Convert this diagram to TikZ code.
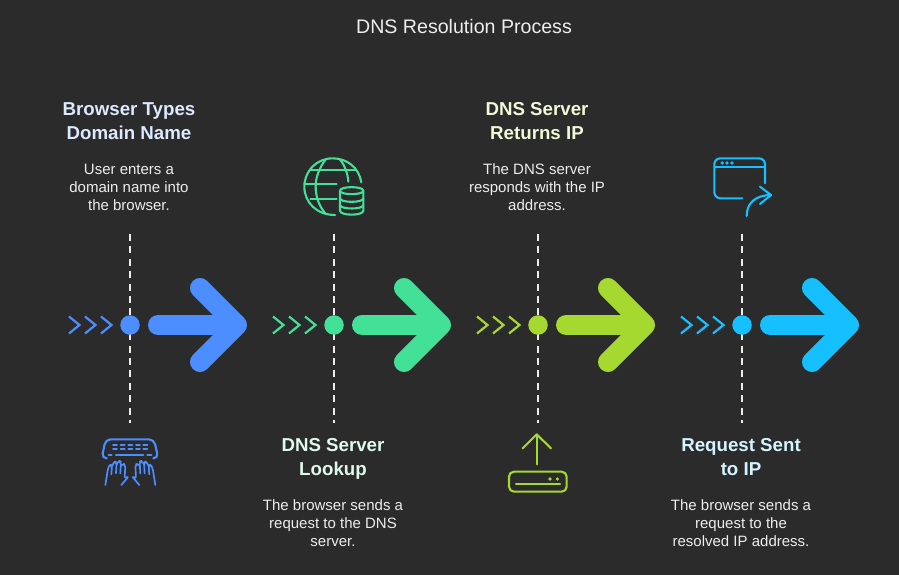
\documentclass[tikz,border=0pt]{standalone}
\usepackage{fontspec}
\setmainfont{Liberation Sans}
\definecolor{bg}{HTML}{2B2B2B}
\definecolor{cblue}{HTML}{4C8DFF}
\definecolor{cgreen}{HTML}{43E097}
\definecolor{clime}{HTML}{A6D92F}
\definecolor{ccyan}{HTML}{16BFFF}
\definecolor{tblue}{HTML}{DDE9FF}
\definecolor{tgreen}{HTML}{DDFAEC}
\definecolor{tlime}{HTML}{F0F9D5}
\definecolor{tcyan}{HTML}{D3F3FF}
\definecolor{body}{HTML}{EDEDED}
\tikzset{
  headtext/.style={align=center,inner sep=0pt,font=\bfseries\fontsize{18.7}{24}\selectfont},
  bodytext/.style={align=center,inner sep=0pt,text=body,font=\fontsize{15}{18}\selectfont},
  titletext/.style={inner sep=0pt,text=body,font=\fontsize{19.6}{23}\selectfont},
  guide/.style={draw=body,line width=2pt,dash pattern=on 7pt off 5.4pt},
  dot/.style={circle,inner sep=0pt,minimum size=19.5pt},
  bigarrow/.style={line width=20pt,line cap=round,line join=round},
  chev/.style={line width=2.2pt,line join=miter},
  icon/.style={line width=2.1pt,line cap=round,line join=round},
}
\begin{document}
\begin{tikzpicture}[x=1pt,y=-1pt]
\useasboundingbox (0,0) rectangle (899,575);
\fill[bg] (0,0) rectangle (899,575);
\node[titletext] (title) at (464,26) {DNS Resolution Process};

\foreach \n/\cx/\col in {a/130/cblue,b/334/cgreen,c/538/clime,d/742/ccyan}{
  \coordinate (\n top) at (\cx-0.5,234);
  \coordinate (\n bot) at (\cx-0.5,423);
  \draw[guide] (\n top) -- (\n bot);
  \node[dot,fill=\col] (\n dot) at (\cx,325) {};
  \foreach \o in {-61,-45,-29}{
    \draw[chev,draw=\col] (\cx+\o,316.5) -- ++(10.5,8.5) -- ++(-10.5,8.5);
  }
  \draw[bigarrow,draw=\col] (\cx+28,325) -- (\cx+105,325);
  \draw[bigarrow,draw=\col] (\cx+70,288) -- (\cx+107,325) -- (\cx+70,362);
}

\node[headtext,text=tblue] (h1) at (129,121) {Browser Types\\Domain Name};
\node[bodytext] (t1) at (129,187) {User enters a\\domain name into\\the browser.};
\node[headtext,text=tgreen] (h2) at (333,459) {DNS Server\\Lookup};
\node[bodytext] (t2) at (333,523) {The browser sends a\\request to the DNS\\server.};
\node[headtext,text=tlime] (h3) at (537,121) {DNS Server\\Returns IP};
\node[bodytext] (t3) at (537,187) {The DNS server\\responds with the IP\\address.};
\node[headtext,text=tcyan] (h4) at (741,457) {Request Sent\\to IP};
\node[bodytext] (t4) at (741,523) {The browser sends a\\request to the\\resolved IP address.};

% keyboard + hands
\begin{scope}[shift={(90,425)},x=0.3333pt,y=-0.3333pt,icon,draw=cblue]
  \draw[rounded corners=5pt] (50,100) -- (35,100) -- (47,43) -- (192,43) -- (205,100) -- (190,100);
  \draw (78,90) -- (160,90) (56,90) -- (65,90) (172,90) -- (184,90);
  \foreach \y in {60,73}{\foreach \x in {69,92,115,138,160}{\draw[line width=1.8pt] (\x,\y) -- (\x+12,\y);}}
  \begin{scope}[line width=1.7pt]
  \draw[rounded corners=2pt] (46,180) -- (54,130) -- (60,118) -- (66,122) -- (64,148);
  \draw[rounded corners=2pt] (66,124) -- (73,109) -- (80,112) -- (78,145);
  \draw[rounded corners=2pt] (80,118) -- (87,107) -- (93,110) -- (91,145);
  \draw[rounded corners=2pt] (93,122) -- (99,115) -- (106,120) -- (104,160) -- (116,154) -- (94,180);
  \draw[rounded corners=2pt] (196,180) -- (188,130) -- (182,118) -- (176,122) -- (178,148);
  \draw[rounded corners=2pt] (176,124) -- (169,109) -- (162,112) -- (164,145);
  \draw[rounded corners=2pt] (162,118) -- (155,107) -- (149,110) -- (151,145);
  \draw[rounded corners=2pt] (149,122) -- (143,115) -- (136,120) -- (138,160) -- (126,154) -- (148,180);
  \end{scope}
\end{scope}

% globe + database
\begin{scope}[shift={(295,150)},x=0.3333pt,y=-0.3333pt,icon,draw=cgreen]
  \draw (199,97) .. controls (192,52) and (155,25) .. (113,25)
        .. controls (65,25) and (28,63) .. (28,110)
        .. controls (28,157) and (65,195) .. (120,195);
  \draw (92,28) .. controls (72,55) and (62,82) .. (62,110) .. controls (62,140) and (72,168) .. (92,192);
  \draw (135,28) .. controls (150,48) and (158,70) .. (160,95);
  \draw (46,60) -- (180,60) (29,102) -- (125,102) (46,148) -- (125,148);
  \draw (135,122) .. controls (135,108) and (205,108) .. (205,122)
        .. controls (205,136) and (135,136) .. (135,122);
  \draw (135,122) -- (135,182) .. controls (135,198) and (205,198) .. (205,182) -- (205,122);
  \draw (135,145) .. controls (135,159) and (205,159) .. (205,145);
  \draw (135,165) .. controls (135,179) and (205,179) .. (205,165);
\end{scope}

% router + up arrow
\begin{scope}[shift={(500,425)},x=0.3333pt,y=-0.3333pt,icon,draw=clime]
  \draw[rounded corners=5pt] (27,140) rectangle (200,200);
  \draw (48,177) -- (180,177);
  \fill[clime] (150,162) circle (1.8pt) (172,162) circle (1.8pt);
  \draw (110,118) -- (110,28);
  \draw (68,70) -- (110,28) -- (153,70);
\end{scope}

% browser window + forward arrow
\begin{scope}[shift={(705,150)},x=0.3333pt,y=-0.3333pt,icon,draw=ccyan]
  \draw[rounded corners=6pt] (112,145) -- (28,145) -- (28,25) -- (180,25) -- (180,100);
  \draw (28,52) -- (180,52);
  \fill[ccyan] (52,39) circle (1.9pt) (66,39) circle (1.9pt) (81,39) circle (1.9pt);
  \draw (125,198) .. controls (125,160) and (150,136) .. (198,135);
  \draw (165,110) -- (198,135) -- (165,162);
\end{scope}
\end{tikzpicture}
\end{document}
